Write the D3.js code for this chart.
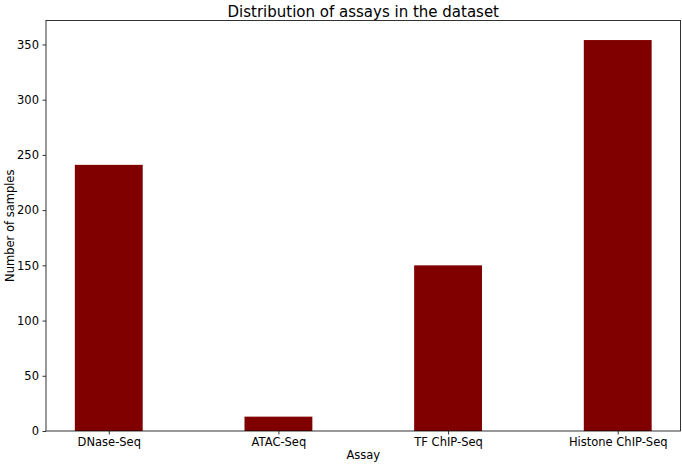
<!DOCTYPE html>
<html><head><meta charset="utf-8">
<script src="https://cdn.jsdelivr.net/npm/d3@7"></script>
<style>html,body{margin:0;padding:0;background:#fff;} text{font-family:"DejaVu Sans",sans-serif;fill:#000;}</style>
</head><body>
<script>
const categories = ["DNase-Seq", "ATAC-Seq", "TF ChIP-Seq", "Histone ChIP-Seq"];
const values = [241, 13, 150, 354];
const yTicks = [0, 50, 100, 150, 200, 250, 300, 350];

const W = 682, H = 464;
const m = {left: 46, right: 1.5, top: 20.5, bottom: 33};
const svg = d3.select("body").append("svg").attr("width", W).attr("height", H);

const x = d3.scaleLinear().domain([-0.37, categories.length - 1 + 0.37]).range([m.left, W - m.right]);
const y = d3.scaleLinear().domain([0, 354 * 1.05]).range([H - m.bottom, m.top]);
const bw = 0.4;

svg.append("g").selectAll("rect").data(values).join("rect")
  .attr("x", (d, i) => x(i - bw / 2))
  .attr("width", (d, i) => x(i + bw / 2) - x(i - bw / 2))
  .attr("y", d => y(d))
  .attr("height", d => y(0) - y(d))
  .attr("fill", "#800000");

const xa = svg.append("g").attr("transform", `translate(0,${H - m.bottom})`)
  .call(d3.axisBottom(x).tickValues(d3.range(categories.length)).tickFormat(i => categories[i]).tickSize(3.5).tickPadding(3.5).tickSizeOuter(0));
const ya = svg.append("g").attr("transform", `translate(${m.left},0)`)
  .call(d3.axisLeft(y).tickValues(yTicks).tickSize(3.5).tickPadding(3.5).tickSizeOuter(0));
[xa, ya].forEach(a => {
  a.select(".domain").remove();
  a.selectAll("line").attr("stroke", "#000").attr("stroke-width", 0.8);
  a.selectAll("text").style("font-size", "11.5px").style("font-family", "DejaVu Sans").attr("fill", "#000");
});

svg.append("rect").attr("x", m.left).attr("y", m.top)
  .attr("width", W - m.right - m.left).attr("height", H - m.bottom - m.top)
  .attr("fill", "none").attr("stroke", "#000").attr("stroke-width", 0.8);

svg.append("text").attr("x", (m.left + W - m.right) / 2).attr("y", 16.5)
  .attr("text-anchor", "middle").style("font-size", "15px").text("Distribution of assays in the dataset");
svg.append("text").attr("x", (m.left + W - m.right) / 2).attr("y", 459)
  .attr("text-anchor", "middle").style("font-size", "11.5px").text("Assay");
svg.append("text").attr("transform", `translate(14,${(m.top + H - m.bottom) / 2}) rotate(-90)`)
  .attr("text-anchor", "middle").style("font-size", "11.5px").text("Number of samples");
</script>
</body></html>
